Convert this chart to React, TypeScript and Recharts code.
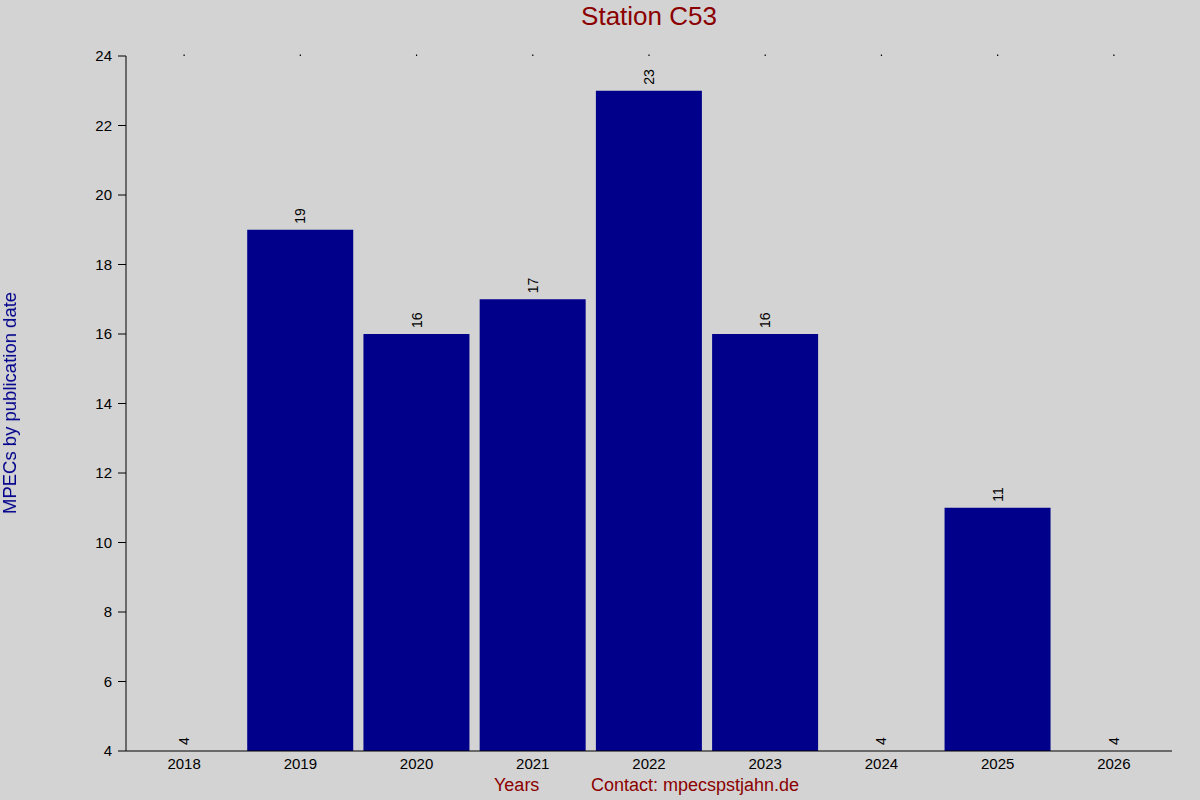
import { ComposedChart, Bar, Line, XAxis, YAxis, LabelList } from "recharts";

const YEARS = ["2018", "2019", "2020", "2021", "2022", "2023", "2024", "2025", "2026"];
const MPECS = [4, 19, 16, 17, 23, 16, 4, 11, 4];
const Y_TICKS = [4, 6, 8, 10, 12, 14, 16, 18, 20, 22, 24];

const data = YEARS.map((year, i) => ({ year, mpecs: MPECS[i] }));

const FONT = "'Liberation Sans', Arial, sans-serif";

// value labels drawn at the data points (so bars of height 0 still get one)
const ValueLabel = (props: any) => {
  const { x, y, value } = props;
  const ty = y - 6;
  return (
    <text
      x={x}
      y={ty}
      transform={`rotate(-90 ${x} ${ty})`}
      textAnchor="start"
      dominantBaseline="central"
      fontSize={14}
      fontFamily={FONT}
      fill="#000"
    >
      {value}
    </text>
  );
};

export default function App() {
  return (
    <div
      style={{
        position: "fixed",
        left: 0,
        top: 0,
        width: 1200,
        height: 800,
        background: "#D3D3D3",
        fontFamily: FONT,
      }}
    >
      <ComposedChart
        width={1200}
        height={800}
        data={data}
        margin={{ top: 54, right: 28, left: 66, bottom: 19 }}
        barCategoryGap={5}
      >
        {/* tiny dot marks along the top edge */}
        <XAxis
          xAxisId="top"
          orientation="top"
          dataKey="year"
          height={2}
          axisLine={false}
          tickLine={{ stroke: "#000", strokeWidth: 1.2 }}
          tickSize={1.5}
          tickMargin={0}
          tick={{ fontSize: 1, fill: "none" }}
          tickFormatter={() => " "}
          interval={0}
        />
        <XAxis
          dataKey="year"
          height={30}
          axisLine={{ stroke: "#000" }}
          tickLine={false}
          tickSize={6}
          tickMargin={1}
          interval={0}
          tick={{ fill: "#000", fontSize: 15, fontFamily: FONT }}
        />
        <YAxis
          width={60}
          domain={[4, 24]}
          ticks={Y_TICKS}
          allowDataOverflow
          axisLine={{ stroke: "#000" }}
          tickLine={{ stroke: "#000" }}
          tickSize={8}
          tickMargin={6}
          tick={{ fill: "#000", fontSize: 15, fontFamily: FONT }}
        />
        <Bar dataKey="mpecs" fill="#00008B" isAnimationActive={false} />
        <Line
          xAxisId="top"
          dataKey="mpecs"
          stroke="none"
          dot={false}
          activeDot={false}
          isAnimationActive={false}
        >
          <LabelList dataKey="mpecs" content={<ValueLabel />} />
        </Line>
      </ComposedChart>
      <div
        style={{
          position: "absolute",
          left: 126,
          width: 1046,
          top: 1,
          textAlign: "center",
          fontSize: 26,
          color: "#8B0000",
        }}
      >
        Station C53
      </div>
      <div
        style={{
          position: "absolute",
          left: 10,
          top: 403,
          transform: "translate(-50%, -50%) rotate(-90deg)",
          whiteSpace: "nowrap",
          fontSize: 18.5,
          color: "#00008B",
        }}
      >
        MPECs by publication date
      </div>
      <div
        style={{
          position: "absolute",
          left: 494,
          top: 775,
          fontSize: 18,
          color: "#8B0000",
          whiteSpace: "nowrap",
        }}
      >
        Years
      </div>
      <div
        style={{
          position: "absolute",
          left: 591,
          top: 775,
          fontSize: 18,
          color: "#8B0000",
          whiteSpace: "nowrap",
        }}
      >
        Contact: mpecspstjahn.de
      </div>
    </div>
  );
}
